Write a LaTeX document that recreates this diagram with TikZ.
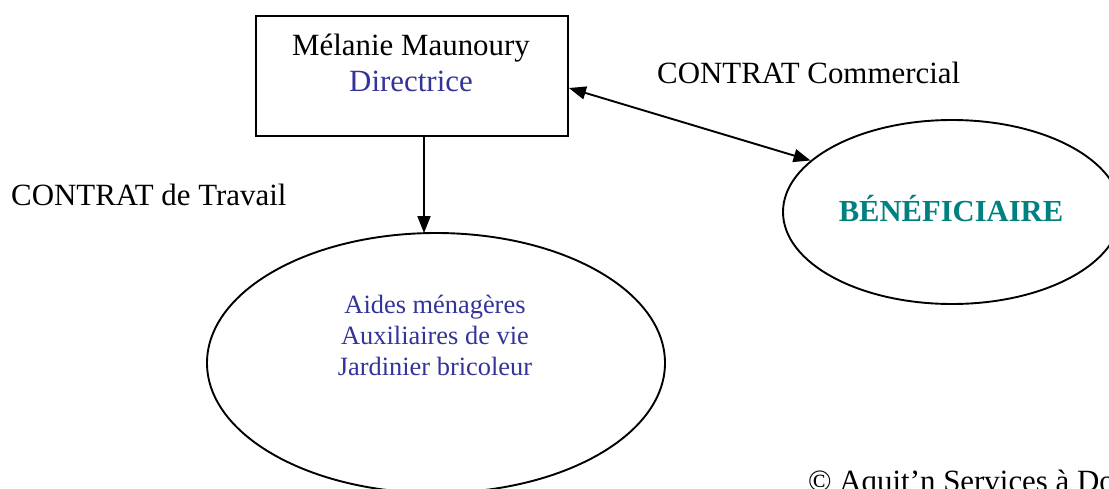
\documentclass[tikz,border=0pt]{standalone}
\usepackage{fontspec}
\setmainfont{Liberation Serif}
\usetikzlibrary{arrows.meta,calc,shapes.geometric}
\definecolor{bluetxt}{HTML}{333399}
\definecolor{tealtxt}{HTML}{008080}
\tikzset{
  big/.style={font=\fontsize{30.9}{35}\selectfont, inner sep=0pt},
  mid/.style={font=\fontsize{26.4}{31}\selectfont, inner sep=0pt, align=center},
  shapeline/.style={draw=black, line width=1.9pt},
  arr/.style={line width=1.9pt, -{Triangle[length=17pt,width=13pt]}},
  darr/.style={line width=1.9pt, {Triangle[length=17pt,width=13pt]}-{Triangle[length=17pt,width=13pt]}}
}
\begin{document}
\begin{tikzpicture}[x=1pt,y=-1pt]
\useasboundingbox (0,0) rectangle (1109,488);
\clip (0,0) rectangle (1109,488);
% director box
\node[shapeline, rectangle, minimum width=312pt, minimum height=120pt, inner sep=0pt] (dir) at (412,76) {};
\node[big, anchor=base] (dirname) at (411,55) {Mélanie Maunoury};
\node[big, anchor=base, text=bluetxt] (dirrole) at (411,91) {Directrice};
% staff ellipse
\node[shapeline, ellipse, minimum width=458pt, minimum height=260pt, inner sep=0pt] (aides) at (436,363) {};
\node[mid, anchor=base, text=bluetxt] (aidestxt) at (435,375) {Aides ménagères\\Auxiliaires de vie\\Jardinier bricoleur};
% beneficiary ellipse
\node[shapeline, ellipse, minimum width=338pt, minimum height=184pt, inner sep=0pt] (benef) at (952,212) {};
\node[big, anchor=base, text=tealtxt, font=\fontsize{30.6}{35}\selectfont\bfseries] (beneftxt) at (951,221) {BÉNÉFICIAIRE};
% labels
\node[big, anchor=base west] (lcomm) at (657,83) {CONTRAT Commercial};
\node[big, anchor=base west] (ltrav) at (11,205) {CONTRAT de Travail};
\node[big, anchor=base west] (copy) at (808,491) {© Aquit’n Services à Domicile};
% connectors
\coordinate (t1) at (424,233);
\draw[arr] (dir.south -| t1) -- (t1);
\draw[darr] ($(dir.east)+(0,12)$) -- (benef.160);
\end{tikzpicture}
\end{document}
